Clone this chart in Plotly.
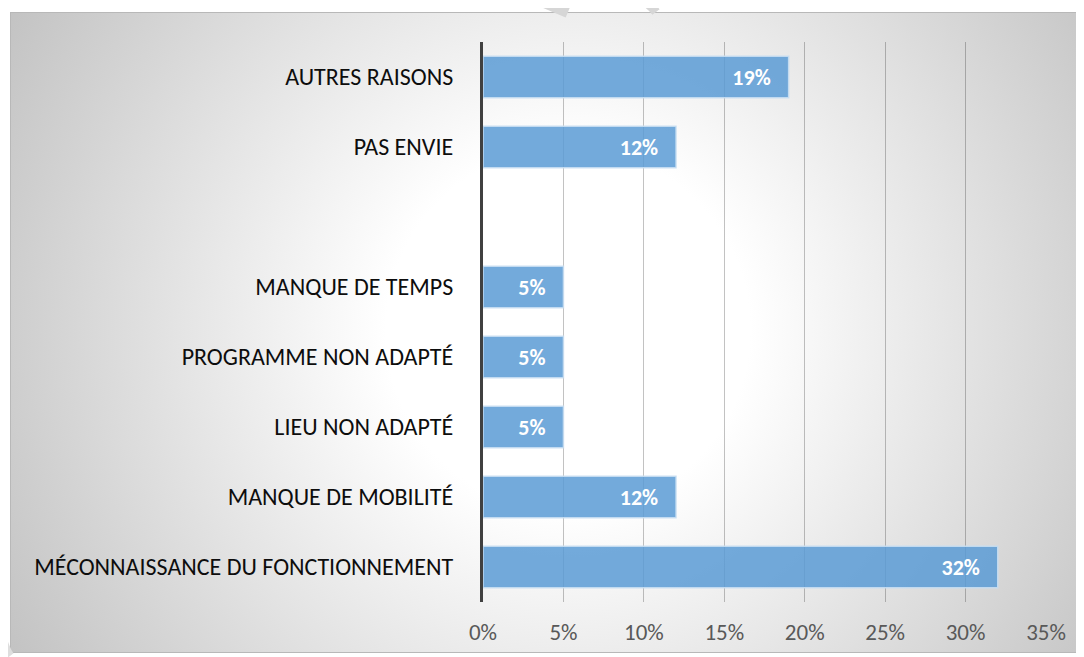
import base64
import plotly.graph_objects as go

# bottom -> top (plotly draws the first category at the bottom)
categories = [
    "MÉCONNAISSANCE DU FONCTIONNEMENT",
    "MANQUE DE MOBILITÉ",
    "LIEU NON ADAPTÉ",
    "PROGRAMME NON ADAPTÉ",
    "MANQUE DE TEMPS",
    "\u00a0",
    "PAS ENVIE",
    "AUTRES RAISONS",
]
values = [0.32, 0.12, 0.05, 0.05, 0.05, None, 0.12, 0.19]
x_ticks = [0, 0.05, 0.10, 0.15, 0.20, 0.25, 0.30, 0.35]
x_ticktext = ["0%", "5%", "10%", "15%", "20%", "25%", "30%", "35%"]

# the page body adds an 8px margin, so the figure is 8px smaller than the window
W, H = 1076, 649
L, R, T, B = 475, 38, 34, 55
FONT = "Carlito, Calibri, Lato, sans-serif"

# background: white margin, grey radial-gradient chart area, faint scan arcs
svg = f"""<svg xmlns='http://www.w3.org/2000/svg' width='{W}' height='{H}' viewBox='0 0 {W} {H}' preserveAspectRatio='none'>
<defs><radialGradient id='g' gradientUnits='userSpaceOnUse' cx='560' cy='322' r='650'>
<stop offset='0' stop-color='#ffffff'/><stop offset='0.28' stop-color='#ffffff'/>
<stop offset='1' stop-color='#c2c2c2'/></radialGradient></defs>
<rect x='0' y='0' width='{W}' height='{H}' fill='#ffffff'/>
<rect x='2.5' y='4.5' width='{W}' height='640' fill='url(#g)' stroke='#b8b8b8' stroke-width='1'/>
<path d='M527 -10 L560 4' stroke='#d6d6d6' stroke-width='12' fill='none'/>
<path d='M630 -10 Q642 -4 648 4' stroke='#d6d6d6' stroke-width='9' fill='none'/>
<path d='M-10 615 Q-4 640 2 648' stroke='#dedede' stroke-width='9' fill='none'/>
</svg>"""
bg_src = "data:image/svg+xml;base64," + base64.b64encode(svg.encode()).decode()

pw, ph = W - L - R, H - T - B

fig = go.Figure(go.Bar(
    y=categories,
    x=values,
    orientation="h",
    marker=dict(
        color="rgba(91,155,213,0.85)",
        line=dict(color="rgba(200,222,242,0.9)", width=1.5),
    ),
    width=0.59,
    text=[None if v is None else f"<b>{round(v * 100)}%</b>\u00a0\u00a0\u00a0" for v in values],
    textposition="inside",
    insidetextanchor="end",
    textangle=0,
    textfont=dict(family=FONT, color="#ffffff", size=22),
    hoverinfo="skip",
))

fig.update_layout(
    width=W,
    height=H,
    margin=dict(l=L, r=R, t=T, b=B, autoexpand=False),
    paper_bgcolor="white",
    plot_bgcolor="rgba(0,0,0,0)",
    showlegend=False,
    font=dict(family=FONT, color="#000000", size=24),
    xaxis=dict(
        range=[0, 0.35],
        tickvals=x_ticks,
        ticktext=x_ticktext,
        showgrid=True,
        gridcolor="rgba(0,0,0,0.24)",
        gridwidth=1,
        zeroline=False,
        ticks="outside",
        ticklen=9,
        tickcolor="rgba(0,0,0,0)",
        tickfont=dict(family=FONT, color="#595959", size=23),
        fixedrange=True,
    ),
    yaxis=dict(
        categoryorder="array",
        categoryarray=categories,
        range=[-0.5, len(categories) - 0.5],
        showline=True,
        linecolor="#404040",
        linewidth=3,
        ticks="outside",
        ticklen=22,
        tickcolor="rgba(0,0,0,0)",
        tickfont=dict(family=FONT, color="#0d0d0d", size=24),
        showgrid=False,
        fixedrange=True,
    ),
    images=[dict(
        source=bg_src,
        xref="paper", yref="paper",
        x=-L / pw, y=1 + T / ph,
        sizex=W / pw, sizey=H / ph,
        xanchor="left", yanchor="top",
        sizing="stretch",
        layer="below",
    )],
)

fig.write_html("out.html", config=dict(displayModeBar=False))
